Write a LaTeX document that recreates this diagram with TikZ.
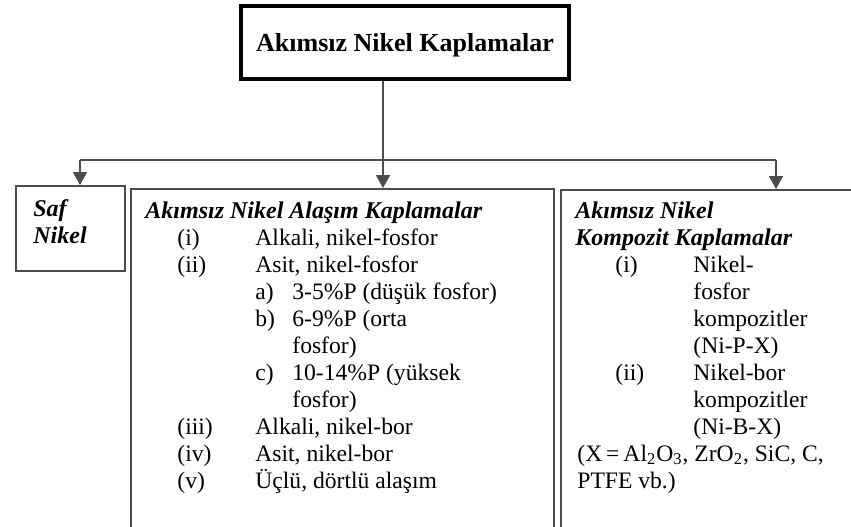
\documentclass[tikz,border=0pt]{standalone}
\usepackage{fontspec}
\setmainfont{Liberation Serif}
\usetikzlibrary{arrows.meta}

\tikzset{
  box/.style={draw=black!70, line width=1pt, anchor=north west, inner sep=0pt},
  topbox/.style={draw=black, line width=2.2pt, inner sep=0pt,
    minimum width=163.8pt, minimum height=36.3pt, text depth=0pt,
    font=\fontsize{13}{15}\selectfont\bfseries},
  % multi-line nodes: base = baseline of the last line
  txt/.style={anchor=base west, inner sep=0pt, align=left,
    font=\fontsize{11.8}{13.5}\selectfont},
  head/.style={txt, font=\fontsize{12}{13.5}\selectfont\bfseries\itshape},
  conn/.style={draw=black!70, line width=1pt},
  arr/.style={conn, -{Triangle[length=6.5pt,width=7pt]}},
}

\begin{document}
\begin{tikzpicture}[x=0.5pt, y=-0.5pt]
    \useasboundingbox (0,0) rectangle (851,526);
    \clip (0,0) rectangle (851,526);

    % boxes
    \node[topbox] (top) at (405,42.5) {Akımsız Nikel Kaplamalar};
    \node[box, minimum width=54.5pt, minimum height=42.5pt] (saf) at (15,185) {};
    \node[box, minimum width=211.5pt, minimum height=186pt] (alasim) at (130,188) {};
    \node[box, minimum width=160pt, minimum height=185.5pt] (kompozit) at (560,189) {};

    % texts
    \node[head] (saftxt) at (33,243) {Saf\\Nikel};

    \node[head] (alasimtitle) at (145,218) {Akımsız Nikel Alaşım Kaplamalar};
    \node[txt] (alasimno) at (177,488) {(i)\\(ii)\\\mbox{}\\\mbox{}\\\mbox{}\\\mbox{}\\\mbox{}\\(iii)\\(iv)\\(v)};
    \node[txt] (alasimitems) at (255,488) {Alkali, nikel-fosfor\\
      Asit, nikel-fosfor\\
      \makebox[18.5pt][l]{a)}3-5\%P (düşük fosfor)\\
      \makebox[18.5pt][l]{b)}6-9\%P (orta\\
      \hspace*{18.5pt}fosfor)\\
      \makebox[18.5pt][l]{c)}10-14\%P (yüksek\\
      \hspace*{18.5pt}fosfor)\\
      Alkali, nikel-bor\\
      Asit, nikel-bor\\
      Üçlü, dörtlü alaşım};

    \node[head] (kompozittitle) at (575,245) {Akımsız Nikel\\Kompozit Kaplamalar};
    \node[txt] (kompozitno) at (615,380) {(i)\\\mbox{}\\\mbox{}\\\mbox{}\\(ii)};
    \node[txt] (kompozititems) at (693,434) {Nikel-\\fosfor\\kompozitler\\(Ni-P-X)\\Nikel-bor\\kompozitler\\(Ni-B-X)};
    \node[txt] (kompozitnote) at (577,488) {(X\,=\,Al\textsubscript{2}O\textsubscript{3}, ZrO\textsubscript{2}, SiC, C,\\PTFE vb.)};

    % connectors
    \coordinate (split) at (383,160);
    \coordinate (lft) at (80,160);
    \coordinate (rgt) at (776,160);
    \draw[conn] (top.south -| split) -- (split);
    \draw[conn] (lft) -- (rgt);
    \draw[arr] (lft) -- (lft |- saf.north);
    \draw[arr] (split) -- (split |- alasim.north);
    \draw[arr] (rgt) -- (rgt |- kompozit.north);
\end{tikzpicture}
\end{document}
